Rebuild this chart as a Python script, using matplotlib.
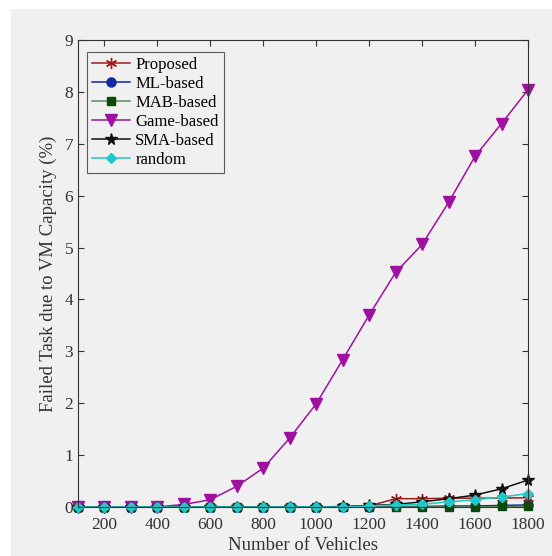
import matplotlib.pyplot as plt
from matplotlib.patches import Rectangle
import numpy as np

plt.rcParams["font.family"] = ["Liberation Serif", "DejaVu Serif"]

vehicles = [100, 200, 300, 400, 500, 600, 700, 800, 900, 1000,
            1100, 1200, 1300, 1400, 1500, 1600, 1700, 1800]

proposed = [0, 0, 0, 0, 0, 0, 0, 0, 0, 0, 0, 0.02, 0.16, 0.16, 0.17, 0.17, 0.17, 0.18]
ml_based = [0, 0, 0, 0, 0, 0, 0, 0, 0, 0, 0, 0, 0.01, 0.01, 0.02, 0.02, 0.03, 0.04]
mab_based = [0, 0, 0, 0, 0, 0, 0, 0, 0, 0, 0, 0, 0, 0, 0, 0, 0.01, 0.01]
game_based = [0, 0, 0, 0, 0.05, 0.14, 0.4, 0.75, 1.33, 1.99, 2.84, 3.7,
              4.52, 5.06, 5.87, 6.76, 7.39, 8.04]
sma_based = [0, 0, 0, 0, 0, 0, 0, 0, 0, 0, 0.01, 0.03, 0.05, 0.1, 0.16, 0.23, 0.35, 0.52]
random_alloc = [0, 0, 0, 0, 0, 0, 0, 0, 0, 0, 0, 0.02, 0.04, 0.05, 0.1, 0.14, 0.19, 0.26]

# nome, valores, cor da linha, marcador, cor do marcador, tamanho
series = [
    ("Proposed", proposed, "#a01c1c", (6, 2, 0), "#a01c1c", 8),
    ("ML-based", ml_based, "#1428a0", "o", "#1428a0", 6.5),
    ("MAB-based", mab_based, "#5a8a5a", "s", "#0a4a0a", 5.5),
    ("Game-based", game_based, "#a010a0", "v", "#a010a0", 8),
    ("SMA-based", sma_based, "#111111", "*", "#111111", 8.5),
    ("random", random_alloc, "#20c8c8", "D", "#20c8c8", 5.5),
]

fig = plt.figure(figsize=(5.52, 5.56), dpi=100, facecolor="white")
fig.patches.append(Rectangle((11 / 552, 0), 1, 547 / 556, transform=fig.transFigure,
                             facecolor="#f0f0f0", edgecolor="none", zorder=-10))
ax = fig.add_axes([78 / 552, 1 - 507 / 556, 450 / 552, 467 / 556])
ax.set_facecolor("#f0f0f0")

for name, vals, lc, mk, mc, ms in series:
    ax.plot(vehicles, vals, color=lc, marker=mk, markerfacecolor=mc,
            markeredgecolor=mc, markersize=ms, linewidth=1.1, label=name,
            clip_on=False)

ax.set_xlim(100, 1800)
ax.set_ylim(0, 9)
ax.set_xticks(np.arange(200, 1801, 200))
ax.set_yticks(np.arange(0, 10, 1))
ax.tick_params(direction="in", top=True, right=True, labelsize=12.5,
               colors="#333333", length=4)
ax.tick_params(axis="x", pad=7)
for s in ax.spines.values():
    s.set_color("#333333")
    s.set_linewidth(0.8)

ax.set_xlabel("Number of Vehicles", fontsize=13.5, color="#333333", labelpad=3)
ax.set_ylabel("Failed Task due to VM Capacity (%)", fontsize=13.5, color="#333333",
              labelpad=5)

leg = ax.legend(loc="upper left", bbox_to_anchor=(0.02, 0.975), fontsize=12,
                frameon=True, fancybox=False, handlelength=2.3, handletextpad=0.3,
                borderpad=0.3, labelspacing=0.18, borderaxespad=0)
leg.get_frame().set_edgecolor("#333333")
leg.get_frame().set_facecolor("#f0f0f0")
leg.get_frame().set_linewidth(0.8)

fig.savefig("out.png", dpi=100)
